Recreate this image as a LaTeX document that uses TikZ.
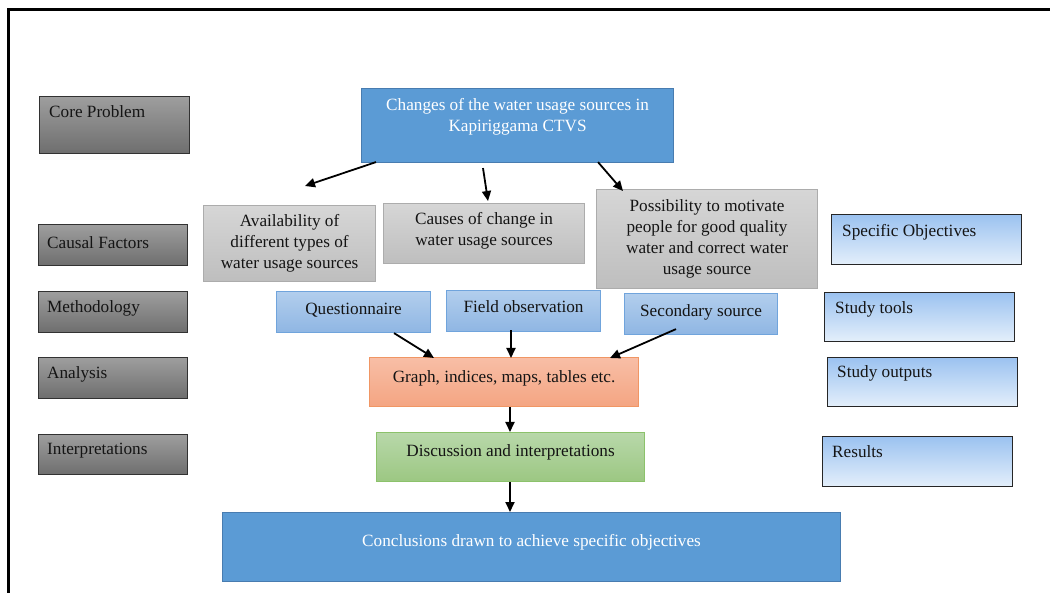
\documentclass[tikz,border=0pt]{standalone}
\usepackage{fontspec}
\setmainfont{Liberation Serif}
\usetikzlibrary{arrows.meta}
\definecolor{dkTop}{RGB}{158,158,158}
\definecolor{dkBot}{RGB}{110,110,110}
\definecolor{dkBorder}{RGB}{50,50,50}
\definecolor{lgTop}{RGB}{214,214,214}
\definecolor{lgBot}{RGB}{190,190,190}
\definecolor{lgBorder}{RGB}{172,172,172}
\definecolor{mTop}{RGB}{178,206,237}
\definecolor{mBot}{RGB}{143,182,227}
\definecolor{mBorder}{RGB}{112,164,220}
\definecolor{rTop}{RGB}{155,194,240}
\definecolor{rBot}{RGB}{228,239,251}
\definecolor{bFill}{RGB}{91,155,213}
\definecolor{bBorder}{RGB}{72,124,176}
\definecolor{oTop}{RGB}{248,190,166}
\definecolor{oBot}{RGB}{244,165,130}
\definecolor{oBorder}{RGB}{240,150,100}
\definecolor{gTop}{RGB}{184,216,170}
\definecolor{gBot}{RGB}{156,199,130}
\definecolor{gBorder}{RGB}{140,194,107}
\definecolor{ink}{RGB}{20,20,20}
\begin{document}
\begin{tikzpicture}[x=1pt,y=-1pt,
  font=\fontsize{17.2}{21}\selectfont,
  box/.style={draw, inner sep=0pt, anchor=north west, line width=1.1pt},
  darkbox/.style={box, draw=dkBorder, top color=dkTop, bottom color=dkBot},
  graybox/.style={box, draw=lgBorder, top color=lgTop, bottom color=lgBot},
  methbox/.style={box, draw=mBorder, top color=mTop, bottom color=mBot},
  rbox/.style={box, draw=black!85, top color=rTop, bottom color=rBot},
  bluebox/.style={box, draw=bBorder, fill=bFill},
  orbox/.style={box, draw=oBorder, top color=oTop, bottom color=oBot},
  grbox/.style={box, draw=gBorder, top color=gTop, bottom color=gBot},
  txt/.style={inner sep=0pt, align=center, text=ink},
  wtxt/.style={inner sep=0pt, align=center, text=white},
  lbl/.style={inner sep=0pt, anchor=west, text=ink},
  arr/.style={line width=1.8pt, -{Triangle[length=10pt,width=9pt]}}
]
\clip (0,0) rectangle (1050,593);
\useasboundingbox (0,0) rectangle (1050,593);
\fill[white] (0,0) rectangle (1050,593);
% frame
\draw[line width=3pt] (8.5,600) -- (8.5,9.5) -- (1060,9.5);

% left column
\node[darkbox, minimum width=150pt, minimum height=57pt] (cp) at (39,96) {};
\node[lbl] (cpT) at ([xshift=10pt,yshift=-16pt]cp.north west) {Core Problem};
\node[darkbox, minimum width=149pt, minimum height=41pt] (cf) at (38,224) {};
\node[lbl] (cfT) at ([xshift=9pt,yshift=-19pt]cf.north west) {Causal Factors};
\node[darkbox, minimum width=149pt, minimum height=41pt] (meth) at (38,291) {};
\node[lbl] (methT) at ([xshift=9pt,yshift=-17pt]meth.north west) {Methodology};
\node[darkbox, minimum width=149pt, minimum height=41pt] (ana) at (38,357) {};
\node[lbl] (anaT) at ([xshift=9pt,yshift=-17pt]ana.north west) {Analysis};
\node[darkbox, minimum width=149pt, minimum height=40pt] (interp) at (38,434) {};
\node[lbl] (interpT) at ([xshift=9pt,yshift=-17pt]interp.north west) {Interpretations};

% right column
\node[rbox, minimum width=190pt, minimum height=50pt] (so) at (831,214) {};
\node[lbl] (soT) at ([xshift=11pt,yshift=-18pt]so.north west) {Specific Objectives};
\node[rbox, minimum width=190pt, minimum height=49pt] (tools) at (824,292) {};
\node[lbl] (toolsT) at ([xshift=11pt,yshift=-17pt]tools.north west) {Study tools};
\node[rbox, minimum width=190pt, minimum height=49pt] (outs) at (827,357) {};
\node[lbl] (outsT) at ([xshift=10pt,yshift=-16pt]outs.north west) {Study outputs};
\node[rbox, minimum width=190pt, minimum height=50pt] (res) at (822,436) {};
\node[lbl] (resT) at ([xshift=10pt,yshift=-16pt]res.north west) {Results};

% core problem
\node[bluebox, minimum width=312pt, minimum height=74pt] (top) at (361,88) {};
\node[wtxt] (topT) at ([yshift=-29pt]top.north) {Changes of the water usage sources in\\Kapiriggama CTVS};

% causal factors
\node[graybox, minimum width=172pt, minimum height=76pt] (avail) at (203,205) {};
\node[txt] (availT) at ([yshift=0pt]avail.center) {Availability of\\different types of\\water usage sources};
\node[graybox, minimum width=201pt, minimum height=60pt] (causes) at (383,203) {};
\node[txt] (causesT) at ([yshift=3pt]causes.center) {Causes of change in\\water usage sources};
\node[graybox, minimum width=221pt, minimum height=99pt] (poss) at (596,189) {};
\node[txt] (possT) at ([yshift=0pt]poss.center) {Possibility to motivate\\people for good quality\\water and correct water\\usage source};

% methodology
\node[methbox, minimum width=154pt, minimum height=41pt] (quest) at (276,291) {};
\node[txt] (questT) at ([yshift=2pt]quest.center) {Questionnaire};
\node[methbox, minimum width=154pt, minimum height=41pt] (field) at (446,290) {};
\node[txt] (fieldT) at ([yshift=4pt]field.center) {Field observation};
\node[methbox, minimum width=153pt, minimum height=41pt] (sec) at (624,293) {};
\node[txt] (secT) at ([yshift=2pt]sec.center) {Secondary source};

% analysis
\node[orbox, minimum width=269pt, minimum height=49pt] (graph) at (369,357) {};
\node[txt] (graphT) at ([yshift=4pt]graph.center) {Graph, indices, maps, tables etc.};
\node[grbox, minimum width=268pt, minimum height=49pt] (disc) at (376,432) {};
\node[txt] (discT) at ([yshift=5pt]disc.center) {Discussion and interpretations};
\node[bluebox, minimum width=618pt, minimum height=69pt] (conc) at (222,512) {};
\node[wtxt] (concT) at ([yshift=5pt]conc.center) {Conclusions drawn to achieve specific objectives};

% arrows
\draw[arr] ([xshift=15pt,yshift=1pt]top.south west) -- ([xshift=102pt,yshift=19pt]avail.north west);
\draw[arr] ([xshift=122pt,yshift=-5pt]top.south west) -- ([xshift=105pt,yshift=2pt]causes.north west);
\draw[arr] ([xshift=237pt,yshift=1pt]top.south west) -- ([xshift=27pt,yshift=-2pt]poss.north west);
\draw[arr] ([xshift=118pt]quest.south west) -- ([xshift=65pt,yshift=-1pt]graph.north west);
\draw[arr] ([xshift=65pt,yshift=2pt]field.south west) -- ([xshift=142pt,yshift=-1pt]graph.north west);
\draw[arr] ([xshift=52pt,yshift=6pt]sec.south west) -- ([xshift=241pt,yshift=-1pt]graph.north west);
\draw[arr] ([xshift=141pt]graph.south west) -- ([xshift=134pt]disc.north west);
\draw[arr] ([xshift=134pt]disc.south west) -- ([xshift=288pt]conc.north west);
\end{tikzpicture}
\end{document}
